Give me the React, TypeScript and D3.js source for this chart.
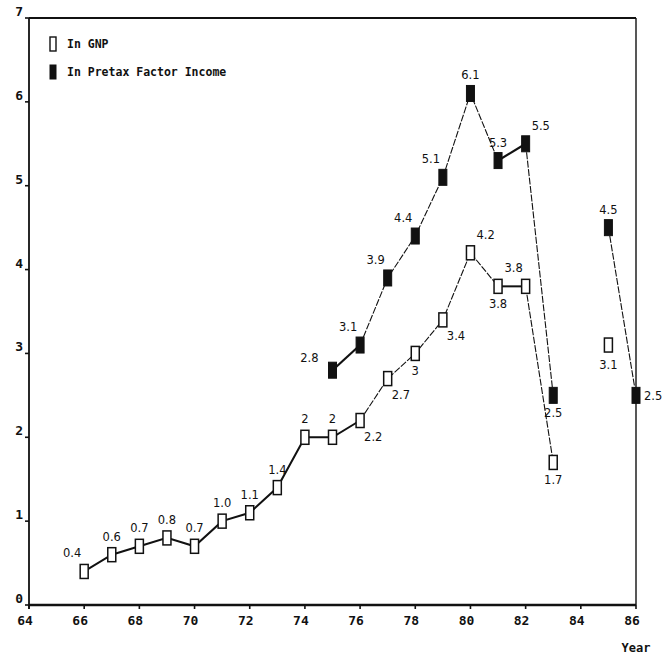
import React from "react";
import * as d3 from "d3";

const years = [66, 67, 68, 69, 70, 71, 72, 73, 74, 75, 76, 77, 78, 79, 80, 81, 82, 83, 85, 86];
// null = no observation
const gnp: (number | null)[] = [0.4, 0.6, 0.7, 0.8, 0.7, 1.0, 1.1, 1.4, 2, 2, 2.2, 2.7, 3, 3.4, 4.2, 3.8, 3.8, 1.7, 3.1, null];
const gnpLabels: string[] = ["0.4", "0.6", "0.7", "0.8", "0.7", "1.0", "1.1", "1.4", "2", "2", "2.2", "2.7", "3", "3.4", "4.2", "3.8", "3.8", "1.7", "3.1", ""];
const pretax: (number | null)[] = [null, null, null, null, null, null, null, null, null, 2.8, 3.1, 3.9, 4.4, 5.1, 6.1, 5.3, 5.5, 2.5, 4.5, 2.5];
const pretaxLabels: string[] = ["", "", "", "", "", "", "", "", "", "2.8", "3.1", "3.9", "4.4", "5.1", "6.1", "5.3", "5.5", "2.5", "4.5", "2.5"];
// label placement codes
const gnpPlace = ["al", "a", "a", "a", "a", "a", "a", "a", "a", "a", "br", "br", "b", "br", "ar", "b", "al", "b", "bl", ""];
const pretaxPlace = ["", "", "", "", "", "", "", "", "", "l", "al", "al", "al", "al", "a", "a", "ar", "b", "a", "r"];
// connected segments: [from index, to index, bold?]
const gnpSegments: [number, number, boolean][] = [[0, 10, true], [10, 15, false], [15, 16, true], [16, 17, false]];
const pretaxSegments: [number, number, boolean][] = [[9, 10, true], [10, 15, false], [15, 16, true], [16, 17, false], [18, 19, false]];

const xTicks = [64, 66, 68, 70, 72, 74, 76, 78, 80, 82, 84, 86];
const yTicks = [0, 1, 2, 3, 4, 5, 6, 7];

const W = 666, H = 659;
const x = d3.scaleLinear().domain([64, 86]).range([29, 636]);
const y = d3.scaleLinear().domain([0, 7]).range([605, 18]);

const boldFont = "'DejaVu Sans Mono', monospace";
const handFont = "'DejaVu Sans', sans-serif";

function offset(code: string): [number, number, string] {
  switch (code) {
    case "a": return [0, -14, "middle"];
    case "b": return [0, 22, "middle"];
    case "l": return [-14, -8, "end"];
    case "r": return [8, 5, "start"];
    case "al": return [-12, -14, "middle"];
    case "ar": return [6, -14, "start"];
    case "br": return [4, 20, "start"];
    case "bl": return [0, 24, "middle"];
    default: return [0, 0, "middle"];
  }
}

export default function App() {
  const seg = (vals: (number | null)[], a: number, b: number) => {
    const pts: [number, number][] = [];
    for (let i = a; i <= b; i++) {
      const v = vals[i];
      if (v != null) pts.push([x(years[i]), y(v)]);
    }
    return d3.line()(pts) || "";
  };

  return (
    <svg width={W} height={H} style={{ position: "absolute", left: 0, top: 0, background: "#fff" }}>
      {/* frame */}
      <line x1={x(64)} x2={x(86)} y1={y(7)} y2={y(7)} stroke="#111" strokeWidth={1.8} />
      <line x1={x(86)} x2={x(86)} y1={y(7)} y2={y(0)} stroke="#111" strokeWidth={1.4} />
      <line x1={x(64)} x2={x(64)} y1={y(7)} y2={y(0) + 4} stroke="#111" strokeWidth={1.8} />
      <line x1={x(64)} x2={x(86)} y1={y(0)} y2={y(0)} stroke="#111" strokeWidth={2.6} />
      {/* y ticks */}
      {yTicks.map((t) => (
        <g key={"y" + t}>
          <line x1={x(64) - 4} x2={x(64)} y1={y(t)} y2={y(t)} stroke="#111" strokeWidth={1.6} />
          <text x={x(64) - 6} y={y(t) - 2} textAnchor="end" fontFamily={boldFont} fontWeight="bold" fontSize={13} fill="#111">{t}</text>
        </g>
      ))}
      {/* x ticks */}
      {xTicks.map((t) => (
        <g key={"x" + t}>
          <line x1={x(t)} x2={x(t)} y1={y(0)} y2={y(0) + 4} stroke="#111" strokeWidth={1.6} />
          <text x={x(t) - 4} y={y(0) + 20} textAnchor="middle" fontFamily={boldFont} fontWeight="bold" fontSize={13} fill="#111">{t}</text>
        </g>
      ))}
      <text x={x(86)} y={652} textAnchor="middle" fontFamily={boldFont} fontWeight="bold" fontSize={12} fill="#111">Year</text>

      {/* legend */}
      <rect x={50} y={37} width={6} height={14} fill="#fff" stroke="#111" strokeWidth={1.4} />
      <text x={67} y={48} fontFamily={boldFont} fontWeight="bold" fontSize={11.5} fill="#111">In GNP</text>
      <rect x={50} y={65} width={6} height={14} fill="#111" stroke="#111" strokeWidth={1} />
      <text x={67} y={76} fontFamily={boldFont} fontWeight="bold" fontSize={11.5} fill="#111">In Pretax Factor Income</text>

      {/* lines */}
      {gnpSegments.map(([a, b, bold], k) => (
        <path key={"gs" + k} d={seg(gnp, a, b)} fill="none" stroke="#111" strokeWidth={bold ? 2 : 1.1} strokeDasharray={bold ? undefined : "7 1.5"} />
      ))}
      {pretaxSegments.map(([a, b, bold], k) => (
        <path key={"ps" + k} d={seg(pretax, a, b)} fill="none" stroke="#111" strokeWidth={bold ? 2.2 : 1.1} strokeDasharray={bold ? undefined : "7 1.5"} />
      ))}

      {/* markers */}
      {gnp.map((v, i) => v == null ? null : (
        <rect key={"gm" + i} x={x(years[i]) - 4} y={y(v) - 7} width={8} height={14} fill="#fff" stroke="#111" strokeWidth={1.5} />
      ))}
      {pretax.map((v, i) => v == null ? null : (
        <rect key={"pm" + i} x={x(years[i]) - 4} y={y(v) - 8} width={8} height={16} fill="#111" stroke="#111" strokeWidth={1} />
      ))}

      {/* data labels */}
      {gnp.map((v, i) => {
        if (v == null || !gnpLabels[i]) return null;
        const [dx, dy, anchor] = offset(gnpPlace[i]);
        return (
          <text key={"gl" + i} x={x(years[i]) + dx} y={y(v) + dy} textAnchor={anchor as any} fontFamily={handFont} fontSize={11.5} fill="#111">{gnpLabels[i]}</text>
        );
      })}
      {pretax.map((v, i) => {
        if (v == null || !pretaxLabels[i]) return null;
        const [dx, dy, anchor] = offset(pretaxPlace[i]);
        return (
          <text key={"pl" + i} x={x(years[i]) + dx} y={y(v) + dy} textAnchor={anchor as any} fontFamily={handFont} fontSize={11.5} fill="#111">{pretaxLabels[i]}</text>
        );
      })}
    </svg>
  );
}
